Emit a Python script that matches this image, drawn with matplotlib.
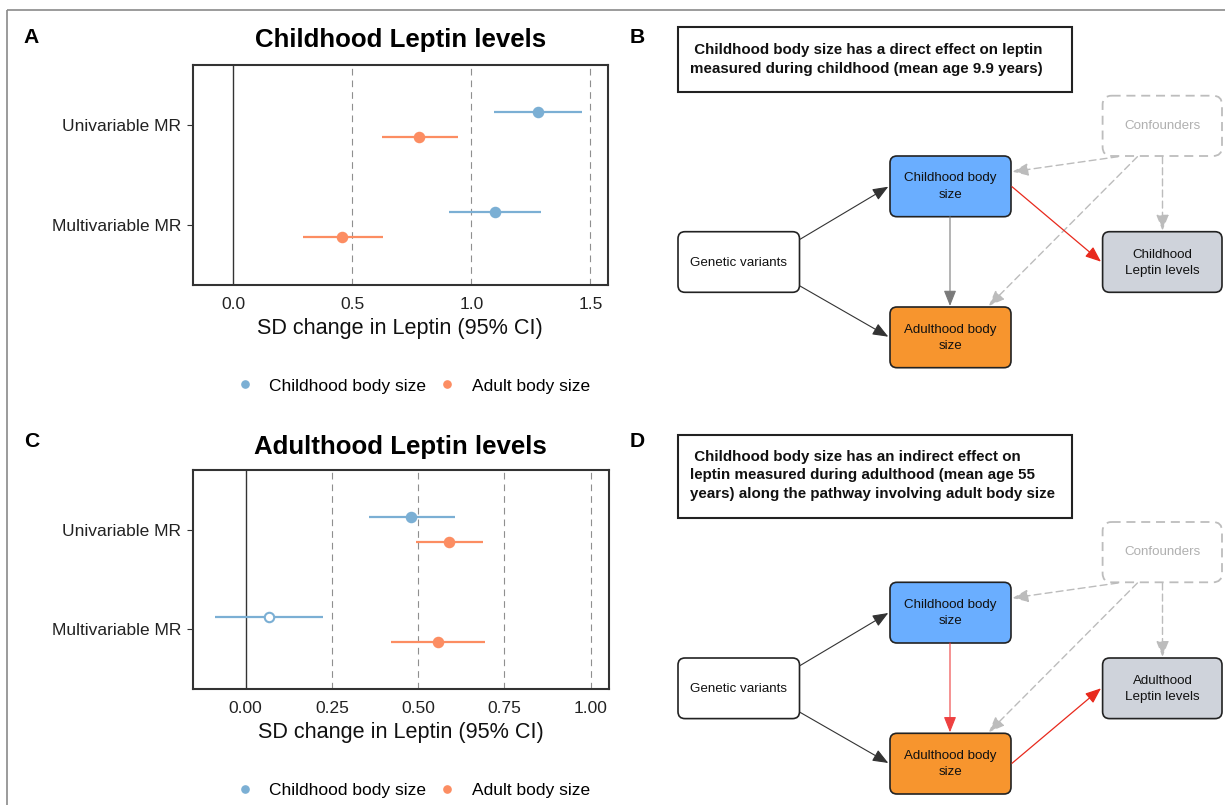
import matplotlib
matplotlib.use("Agg")
import matplotlib.pyplot as plt
from matplotlib.patches import FancyBboxPatch, FancyArrowPatch, Rectangle
from matplotlib.lines import Line2D

plt.rcParams['font.family'] = ['Liberation Sans', 'DejaVu Sans']

# ---------------- data ----------------
methods = ["Univariable MR", "Multivariable MR"]
series = ["Childhood body size", "Adult body size"]
series_colors = ["#7BAFD4", "#FC8D62"]

# Panel A: childhood leptin levels
a_child_est = [1.280, 1.100]
a_child_lo = [1.097, 0.905]
a_child_hi = [1.464, 1.293]
a_child_sig = [True, True]
a_adult_est = [0.781, 0.458]
a_adult_lo = [0.623, 0.292]
a_adult_hi = [0.943, 0.628]
a_adult_sig = [True, True]
a_ticks = [0.0, 0.5, 1.0, 1.5]
a_ticklabels = ["0.0", "0.5", "1.0", "1.5"]

# Panel C: adulthood leptin levels
c_child_est = [0.480, 0.067]
c_child_lo = [0.357, -0.089]
c_child_hi = [0.606, 0.225]
c_child_sig = [True, False]
c_adult_est = [0.590, 0.557]
c_adult_lo = [0.493, 0.421]
c_adult_hi = [0.687, 0.693]
c_adult_sig = [True, True]
c_ticks = [0.0, 0.25, 0.5, 0.75, 1.0]
c_ticklabels = ["0.00", "0.25", "0.50", "0.75", "1.00"]

xlabel = "SD change in Leptin (95% CI)"
title_a = "Childhood Leptin levels"
title_c = "Adulthood Leptin levels"

# Diagram texts
b_caption = [" Childhood body size has a direct effect on leptin",
             "measured during childhood (mean age 9.9 years)"]
d_caption = [" Childhood body size has an indirect effect on",
             "leptin measured during adulthood (mean age 55",
             "years) along the pathway involving adult body size"]
node_genetic = ["Genetic variants"]
node_child = ["Childhood body", "size"]
node_adult = ["Adulthood body", "size"]
node_conf = ["Confounders"]
b_outcome = ["Childhood", "Leptin levels"]
d_outcome = ["Adulthood", "Leptin levels"]

# ---------------- figure ----------------
W, H = 1225, 805
fig = plt.figure(figsize=(W / 100, H / 100), dpi=100)
fig.patch.set_facecolor("white")

ov = fig.add_axes([0, 0, 1, 1])
ov.set_xlim(0, W)
ov.set_ylim(H, 0)
ov.axis("off")


def px_axes(x0, y0, x1, y1):
    return fig.add_axes([x0 / W, 1 - y1 / H, (x1 - x0) / W, (y1 - y0) / H])


def pt2px(pt):
    return pt * 100 / 72


def txt(x, yc, s, size, ha="center", **kw):
    ov.text(x, yc + 0.36 * pt2px(size), s, ha=ha, va="baseline",
            fontsize=size, **kw)


# outer frame (partially visible)
ov.plot([7, 7], [10, H], color="#8a8a8a", lw=1.2, solid_capstyle="butt")
ov.plot([7, W], [10, 10], color="#8a8a8a", lw=1.2, solid_capstyle="butt")


def forest(ax, est, lo, hi, sig, ticks, ticklabels, xlim):
    ypos = [2, 1]
    offs = [0.125, -0.125]
    ax.axvline(0, color="#333333", lw=1.0, zorder=1)
    for t in ticks:
        if t != 0:
            ax.axvline(t, color="#8f8f8f", lw=0.8, ls=(0, (6, 4.5)), zorder=1)
    for k in range(2):
        ys = [p + offs[k] for p in ypos]
        xerr = [[e - l for e, l in zip(est[k], lo[k])],
                [h - e for e, h in zip(est[k], hi[k])]]
        ax.errorbar(est[k], ys, xerr=xerr, fmt="none", ecolor=series_colors[k],
                    elinewidth=1.6, capsize=0, zorder=3)
        for e, y, s in zip(est[k], ys, sig[k]):
            ax.plot(e, y, "o", ms=6.8, mfc=series_colors[k] if s else "white",
                    mec=series_colors[k], mew=1.5, zorder=4)
    ax.set_xlim(*xlim)
    ax.set_ylim(0.4, 2.6)
    ax.set_yticks(ypos, methods)
    ax.set_xticks(ticks, ticklabels)
    for sp in ax.spines.values():
        sp.set_color("#333333")
        sp.set_linewidth(1.5)
    ax.tick_params(axis="x", length=0, pad=8.3, labelsize=12.5, labelcolor="#222222")
    ax.tick_params(axis="y", length=4, width=0.8, color="#333333", pad=4.2,
                   labelsize=12.5, labelcolor="#222222")
    ax.set_xlabel(xlabel, fontsize=15.6, color="#111111")
    ax.xaxis.set_label_coords(0.5, -0.151)
    handles = [Line2D([], [], marker="o", ls="none", ms=5.2, color=c)
               for c in series_colors]
    return handles


axA = px_axes(192.7, 65, 608, 285)
hA = forest(axA, [a_child_est, a_adult_est], [a_child_lo, a_adult_lo],
            [a_child_hi, a_adult_hi], [a_child_sig, a_adult_sig],
            a_ticks, a_ticklabels, (-0.171, 1.574))
axA.legend(hA, series, loc="center", bbox_to_anchor=(414 / W, 1 - 386 / H),
           bbox_transform=fig.transFigure, ncol=2, frameon=False, fontsize=12.5,
           handlelength=0.8, handletextpad=1.0, columnspacing=0.8,
           borderaxespad=0, borderpad=0)

axC = px_axes(192.7, 470, 609, 689.3)
hC = forest(axC, [c_child_est, c_adult_est], [c_child_lo, c_adult_lo],
            [c_child_hi, c_adult_hi], [c_child_sig, c_adult_sig],
            c_ticks, c_ticklabels, (-0.1536, 1.053))
axC.legend(hC, series, loc="center", bbox_to_anchor=(414 / W, 1 - 790 / H),
           bbox_transform=fig.transFigure, ncol=2, frameon=False, fontsize=12.5,
           handlelength=0.8, handletextpad=1.0, columnspacing=0.8,
           borderaxespad=0, borderpad=0)

# titles and panel letters
ov.text(400.5, 46.5, title_a, ha="center", va="baseline", fontsize=18.6,
        fontweight="bold")
ov.text(400.5, 453.5, title_c, ha="center", va="baseline", fontsize=18.6,
        fontweight="bold")
for lab, x, y in [("A", 31, 43.3), ("C", 32, 446.7), ("B", 637, 42.7), ("D", 637, 446.7)]:
    ov.text(x, y, lab, ha="center", va="baseline", fontsize=15.2, fontweight="bold")


# ---------------- diagrams ----------------
def box(x0, y0, x1, y1, fc, ec="#222222", lw=1.2, ls="-", r=7, z=2):
    p = FancyBboxPatch((x0, y0), x1 - x0, y1 - y0,
                       boxstyle=f"round,pad=0,rounding_size={r}",
                       fc=fc, ec=ec, lw=lw, ls=ls, zorder=z)
    ov.add_patch(p)


def arrow(p0, p1, color, lw=0.8, ls="-", z=3):
    a = FancyArrowPatch(p0, p1, arrowstyle="-|>,head_length=0.95,head_width=0.38",
                        mutation_scale=10, color=color, lw=lw, ls=ls,
                        shrinkA=0, shrinkB=0, zorder=z)
    ov.add_patch(a)


def node_text(cx, ys, lines, color="#111111", size=9.6):
    for y, s in zip(ys, lines):
        txt(cx, y, s, size, color=color)


def diagram(oy, caption, cap_top, cap_bottom, cap_first, outcome, mode):
    # caption box
    ov.add_patch(Rectangle((678, cap_top), 1071.7 - 678, cap_bottom - cap_top,
                           fc="white", ec="#222222", lw=1.5, zorder=2))
    for i, line in enumerate(caption):
        txt(689.5, cap_first + 18.3 * i, line, 10.9, ha="left",
            fontweight="bold", color="#111111")
    # nodes
    box(1102.6, 95.7 + oy, 1222, 156 + oy, "none", ec="#bdbdbd", lw=1.3,
        ls=(0, (5, 3.2)), r=9)
    node_text(1162.5, [124.3 + oy], node_conf, color="#b0b0b0")
    box(890, 156 + oy, 1011, 216.7 + oy, "#6AAEFF")
    node_text(950.5, [176.7 + oy, 192.7 + oy], node_child)
    box(678, 231.7 + oy, 799.5, 292.3 + oy, "white")
    node_text(738.7, [260.7 + oy], node_genetic)
    box(1102.6, 231.7 + oy, 1222, 292.3 + oy, "#CFD3DB")
    node_text(1162.5, [252.7 + oy, 268.7 + oy], outcome)
    box(890, 307 + oy, 1011, 367.7 + oy, "#F7952E")
    node_text(950.5, [328 + oy, 344 + oy], node_adult)
    # edges
    arrow((800, 239.3 + oy), (888.3, 186.7 + oy), "#333333")
    arrow((800, 286 + oy), (888.3, 336.7 + oy), "#333333")
    grey_d = "#bcbcbc"
    arrow((1118, 156.7 + oy), (1012.5, 171.7 + oy), grey_d, lw=1.0, ls=(0, (5, 3)))
    arrow((1137.4, 156.7 + oy), (988.7, 306 + oy), grey_d, lw=1.0, ls=(0, (5, 3)))
    arrow((1162.5, 156.7 + oy), (1162.5, 230.5 + oy), grey_d, lw=1.0, ls=(0, (5, 3)))
    if mode == "direct":
        arrow((950, 216.7 + oy), (950, 306 + oy), "#7a7a7a", lw=0.8)
        arrow((1012, 186.7 + oy), (1101, 261.7 + oy), "#E8291C", lw=0.9)
    else:
        arrow((950, 216.7 + oy), (950, 306 + oy), "#EE4040", lw=0.8)
        arrow((1012, 337 + oy), (1101, 262 + oy), "#E8291C", lw=0.9)


diagram(0, b_caption, 26.7, 91.7, 49.0, b_outcome, "direct")
diagram(426.3, d_caption, 435.0, 518.3, 455.7, d_outcome, "indirect")

fig.savefig("out.png", dpi=100, facecolor="white")
